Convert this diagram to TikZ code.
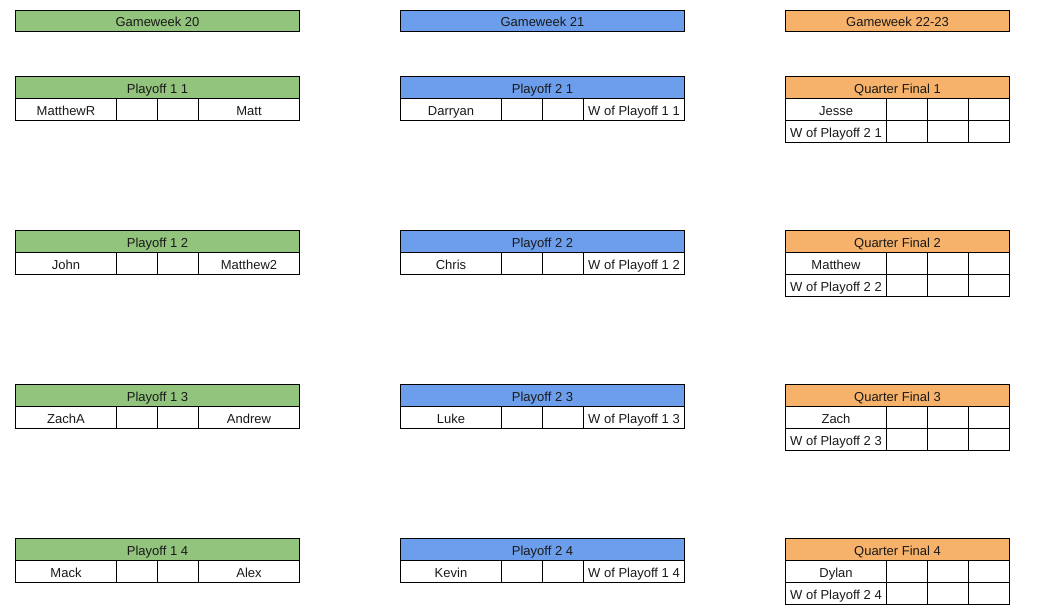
\documentclass[tikz,border=0pt]{standalone}
\usepackage{fontspec}
\setmainfont{Liberation Sans}
\definecolor{gwgreen}{HTML}{93C47D}
\definecolor{gwblue}{HTML}{6D9EEB}
\definecolor{gworange}{HTML}{F6B26B}
\begin{document}
\begin{tikzpicture}[x=0.75pt,y=-0.75pt,
  cell/.style={draw=black, line width=0.75pt, rectangle, inner sep=0pt,
    anchor=north west, minimum height=16.5pt, text height=8.5pt, text depth=0pt,
    font=\fontsize{9.75}{11}\selectfont, text=black!90},
  namecell/.style={cell, minimum width=75.75pt},
  scorecell/.style={cell, minimum width=30.75pt},
  headA/.style={cell, fill=gwgreen, minimum width=213pt},
  headB/.style={cell, fill=gwblue, minimum width=213pt},
  headC/.style={cell, fill=gworange, minimum width=168pt},
  weekcell/.style={minimum height=15.75pt}]
\useasboundingbox (0,0) rectangle (1046,614);

% round headers
\node[headA, weekcell] (gw20) at (15,10) {Gameweek 20};
\node[headB, weekcell] (gw21) at (400,10) {Gameweek 21};
\node[headC, weekcell] (gw22) at (785,10) {Gameweek 22-23};

\foreach \i/\pa/\pb/\pc/\qa in {1/MatthewR/Matt/Darryan/Jesse,
    2/John/Matthew2/Chris/Matthew, 3/ZachA/Andrew/Luke/Zach, 4/Mack/Alex/Kevin/Dylan}{
  \pgfmathtruncatemacro\gy{76+154*(\i-1)}
  % first playoff round
  \node[headA] (pa\i) at (15,\gy) {Playoff 1 \i};
  \node[namecell] (pa\i-a) at (15,\gy+22) {\pa};
  \node[scorecell] (pa\i-b) at (116,\gy+22) {};
  \node[scorecell] (pa\i-c) at (157,\gy+22) {};
  \node[namecell] (pa\i-d) at (198,\gy+22) {\pb};
  % second playoff round
  \node[headB] (pb\i) at (400,\gy) {Playoff 2 \i};
  \node[namecell] (pb\i-a) at (400,\gy+22) {\pc};
  \node[scorecell] (pb\i-b) at (501,\gy+22) {};
  \node[scorecell] (pb\i-c) at (542,\gy+22) {};
  \node[namecell] (pb\i-d) at (583,\gy+22) {W of Playoff 1 \i};
  % quarter finals
  \node[headC] (qf\i) at (785,\gy) {Quarter Final \i};
  \node[namecell] (qf\i-a) at (785,\gy+22) {\qa};
  \node[scorecell] (qf\i-b) at (886,\gy+22) {};
  \node[scorecell] (qf\i-c) at (927,\gy+22) {};
  \node[scorecell] (qf\i-d) at (968,\gy+22) {};
  \node[namecell] (qf\i-e) at (785,\gy+44) {W of Playoff 2 \i};
  \node[scorecell] (qf\i-f) at (886,\gy+44) {};
  \node[scorecell] (qf\i-g) at (927,\gy+44) {};
  \node[scorecell] (qf\i-h) at (968,\gy+44) {};
}
\end{tikzpicture}
\end{document}
